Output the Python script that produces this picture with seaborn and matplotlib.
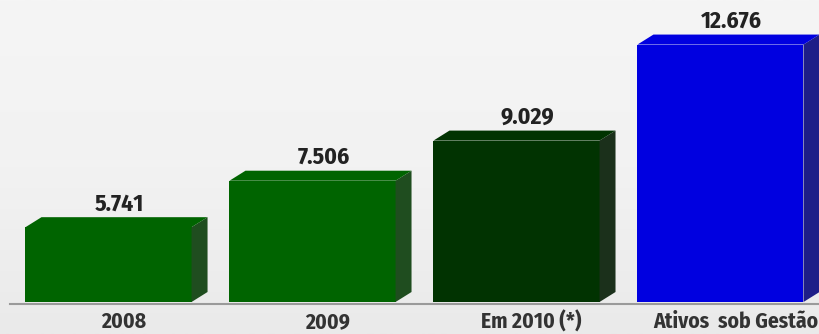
import numpy as np
import pandas as pd
import seaborn as sns
import matplotlib
matplotlib.use("Agg")
import matplotlib.pyplot as plt
import matplotlib.transforms as mtransforms
from matplotlib.patches import Polygon
from matplotlib.colors import LinearSegmentedColormap

# Assets under management (R$ millions)
categories = ["2008", "2009", "Em 2010 (*)", "Ativos  sob Gestão"]
values = [5741, 7506, 9029, 12676]
value_labels = ["5.741", "7.506", "9.029", "12.676"]
front_colors = ["#006400", "#006400", "#013301", "#0000e0"]
side_colors = ["#1f4d1f", "#1f4d1f", "#1b301b", "#1e1e88"]

sns.set_theme(style="white")
plt.rcParams["font.family"] = ["Fira Sans Condensed", "DejaVu Sans"]

fig = plt.figure(figsize=(8.19, 3.34), dpi=100)

# soft vertical background gradient
bg = fig.add_axes([0, 0, 1, 1], zorder=0)
grad = np.linspace(0, 1, 256).reshape(-1, 1)
bg_cmap = LinearSegmentedColormap.from_list("bg", ["#f5f5f5", "#f2f2f2", "#eaeaea"])
bg.imshow(grad, aspect="auto", cmap=bg_cmap, extent=[0, 1, 0, 1], origin="upper")
bg.axis("off")

ax = fig.add_axes([0, 32 / 334, 1, 302 / 334], zorder=1)
ax.patch.set_alpha(0)

df = pd.DataFrame({"category": categories, "value": values})
sns.barplot(data=df, x="category", y="value", hue="category",
            palette=front_colors, saturation=1, width=0.814,
            legend=False, linewidth=0, ax=ax)

ax.set_xlim(-0.532, 3.483)
ax.set_ylim(2900, 14368)

# extrude each bar: a darker side face and a top face
inv = ax.transData.inverted()
p0 = inv.transform((0, 0))
p1 = inv.transform((16, 10))
dx, dy = p1 - p0
y0 = ax.get_ylim()[0]

bars = sorted(ax.patches, key=lambda p: p.get_x())
for patch, fc, sc in zip(bars, front_colors, side_colors):
    x0 = patch.get_x()
    x1 = x0 + patch.get_width()
    top = patch.get_y() + patch.get_height()
    side = Polygon([(x1, y0), (x1, top), (x1 + dx, top + dy), (x1 + dx, y0 + dy)],
                   closed=True, facecolor=sc, edgecolor="none", clip_on=False, zorder=3)
    lid = Polygon([(x0, top), (x0 + dx, top + dy), (x1 + dx, top + dy), (x1, top)],
                  closed=True, facecolor=fc, edgecolor="none", clip_on=False, zorder=3)
    ax.add_patch(side)
    ax.add_patch(lid)

# value labels above each bar
label_tf = mtransforms.offset_copy(ax.transData, fig, x=11, y=17, units="dots")
for i, (v, txt) in enumerate(zip(values, value_labels)):
    ax.text(i, v, txt, transform=label_tf, ha="center", va="baseline",
            fontsize=17, fontweight="bold", color="#222222", zorder=4)

for name in ["left", "right", "top"]:
    ax.spines[name].set_visible(False)
ax.spines["bottom"].set_color("#9a9a9a")
ax.spines["bottom"].set_linewidth(1.5)
ax.spines["bottom"].set_position(("outward", 1.5))
ax.spines["bottom"].set_bounds(-0.483, 3.483)

ax.set_yticks([])
ax.set_xlabel("")
ax.set_ylabel("")
ax.tick_params(axis="x", length=0, pad=5, labelsize=15.5, labelcolor="#333333")
shift = mtransforms.ScaledTranslation(0.15, 0, fig.dpi_scale_trans)
for lbl in ax.get_xticklabels():
    lbl.set_fontweight("bold")
    lbl.set_transform(lbl.get_transform() + shift)

fig.savefig("out.png", dpi=100)
